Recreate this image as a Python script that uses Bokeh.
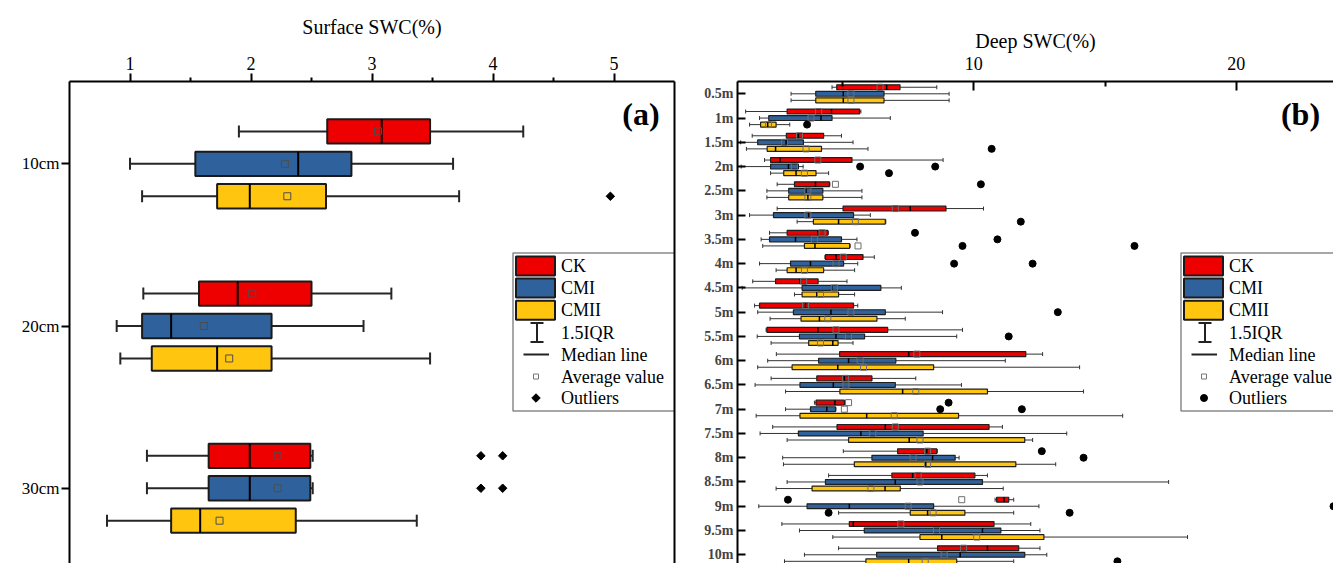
import numpy as np
from bokeh.plotting import figure
from bokeh.models import Range1d, FixedTicker, LinearAxis
from bokeh.layouts import row
from bokeh.embed import file_html
from bokeh.resources import INLINE
from bokeh.core.properties import value

FONT = "Liberation Serif"

series = ["CK", "CMI", "CMII"]
series_colors = ["#EE0000", "#2F629D", "#FFC50F"]

# ---------------- Surface SWC (%) ----------------
# columns: lower whisker, Q1, median, Q3, upper whisker, mean
surf_depths = ["10cm", "20cm", "30cm"]
surf_CK = [
    (1.90, 2.63, 3.08, 3.48, 4.25, 3.05),
    (1.11, 1.57, 1.89, 2.50, 3.16, 2.01),
    (1.14, 1.65, 1.99, 2.49, 2.51, 2.22),
]
surf_CMI = [
    (1.00, 1.54, 2.39, 2.83, 3.67, 2.28),
    (0.89, 1.10, 1.34, 2.17, 2.93, 1.61),
    (1.14, 1.65, 1.99, 2.49, 2.51, 2.22),
]
surf_CMII = [
    (1.10, 1.72, 1.99, 2.62, 3.72, 2.30),
    (0.92, 1.18, 1.72, 2.17, 3.48, 1.82),
    (0.81, 1.34, 1.58, 2.37, 3.37, 1.74),
]
surf_out_CK = [("30cm", 3.90), ("30cm", 4.08)]
surf_out_CMI = [("30cm", 3.90), ("30cm", 4.08)]
surf_out_CMII = [("10cm", 4.97)]

# ---------------- Deep SWC (%) ----------------
deep_depths = ["0.5m", "1m", "1.5m", "2m", "2.5m", "3m", "3.5m", "4m", "4.5m", "5m",
               "5.5m", "6m", "6.5m", "7m", "7.5m", "8m", "8.5m", "9m", "9.5m", "10m"]
deep_CK = [
    (4.60, 4.78, 6.68, 7.19, 8.59, 6.43),
    (1.31, 2.89, 4.58, 5.65, 5.70, 4.09),
    (1.56, 2.86, 3.32, 4.28, 4.96, 3.36),
    (2.03, 2.26, 2.62, 5.36, 8.83, 4.06),
    (2.51, 3.17, 3.97, 4.50, 4.52, 4.73),
    (2.51, 5.02, 7.58, 8.94, 10.37, 7.01),
    (2.22, 2.89, 4.06, 4.44, 4.46, 4.22),
    (4.33, 4.35, 4.75, 5.78, 6.21, 5.03),
    (1.58, 2.45, 3.38, 4.07, 5.17, 3.52),
    (1.65, 1.84, 3.59, 5.42, 5.58, 3.59),
    (2.09, 2.12, 4.06, 6.72, 9.57, 4.75),
    (2.48, 4.89, 7.52, 11.98, 12.62, 7.83),
    (2.28, 4.02, 5.07, 6.12, 7.79, 5.11),
    (3.93, 3.99, 4.71, 5.07, 5.09, 5.23),
    (2.34, 4.79, 6.63, 10.58, 11.09, 7.01),
    (5.03, 7.10, 8.21, 8.59, 8.61, 8.24),
    (4.47, 6.88, 7.67, 10.04, 10.52, 7.88),
    (10.81, 10.87, 11.15, 11.33, 11.52, 9.54),
    (2.69, 5.26, 5.41, 10.77, 12.17, 7.22),
    (4.85, 8.62, 10.52, 11.71, 12.52, 9.61),
]
deep_CMI = [
    (3.04, 3.98, 5.03, 6.58, 9.06, 5.32),
    (1.84, 2.19, 4.18, 4.60, 6.82, 3.80),
    (1.12, 1.77, 2.85, 3.51, 5.40, 2.79),
    (1.14, 2.26, 2.94, 3.32, 3.50, 3.17),
    (2.12, 2.95, 3.61, 4.25, 5.74, 3.68),
    (1.46, 2.37, 3.71, 5.42, 6.06, 3.68),
    (1.90, 2.22, 3.21, 4.96, 5.55, 3.93),
    (1.84, 3.02, 3.78, 5.04, 5.58, 4.75),
    (1.18, 3.46, 4.59, 6.46, 7.24, 4.69),
    (1.77, 3.13, 4.56, 6.63, 8.81, 5.32),
    (1.75, 3.36, 4.75, 5.84, 9.35, 5.23),
    (2.15, 4.09, 5.23, 7.03, 11.20, 5.67),
    (1.67, 3.38, 4.65, 7.01, 9.53, 5.13),
    (2.83, 3.78, 4.40, 4.73, 4.75, 5.07),
    (1.86, 3.32, 5.70, 8.07, 13.54, 6.15),
    (2.72, 6.12, 8.43, 9.29, 9.44, 7.69),
    (2.89, 4.35, 7.01, 10.33, 17.42, 7.95),
    (1.81, 3.65, 5.26, 8.47, 12.48, 7.50),
    (3.36, 5.83, 10.33, 11.03, 12.52, 8.58),
    (3.55, 6.30, 9.48, 11.94, 12.78, 8.87),
]
deep_CMII = [
    (3.04, 3.98, 5.03, 6.58, 9.06, 5.32),
    (1.46, 1.88, 2.15, 2.47, 2.99, 2.18),
    (1.34, 2.13, 2.45, 4.20, 5.97, 3.61),
    (2.26, 2.76, 3.23, 3.99, 4.47, 3.55),
    (2.12, 2.95, 3.68, 4.25, 5.74, 3.68),
    (3.27, 3.89, 4.85, 6.63, 6.65, 5.49),
    (1.96, 3.55, 3.95, 5.27, 5.29, 5.59),
    (2.47, 2.89, 3.23, 4.28, 5.46, 3.55),
    (3.17, 3.46, 4.02, 4.85, 5.46, 4.16),
    (2.24, 3.42, 4.12, 6.31, 7.39, 4.44),
    (2.28, 3.71, 4.63, 4.83, 5.40, 4.16),
    (1.77, 3.08, 4.82, 8.47, 14.03, 5.80),
    (2.83, 4.90, 7.29, 10.52, 14.18, 7.79),
    (1.71, 3.38, 5.92, 9.42, 15.67, 6.97),
    (2.89, 5.23, 7.54, 11.94, 12.24, 7.95),
    (2.75, 5.45, 8.17, 11.60, 13.12, 8.24),
    (2.47, 3.84, 6.62, 7.20, 11.12, 6.08),
    (4.85, 7.58, 8.24, 9.66, 11.52, 8.45),
    (4.63, 7.95, 8.78, 12.67, 18.14, 10.11),
    (2.79, 5.89, 7.52, 9.35, 11.52, 8.15),
]
deep_out_CK = [("2.5m", 10.27), ("3.5m", 7.76), ("7m", 9.04), ("8m", 12.59), ("9m", 2.92)]
deep_out_CMI = [("2m", 5.67), ("2m", 8.53), ("3.5m", 10.90), ("4m", 9.25), ("4m", 12.24),
                ("5m", 13.20), ("5.5m", 11.33), ("7m", 8.72), ("7m", 11.83), ("8m", 14.18),
                ("9m", 23.70)]
deep_out_CMII = [("1m", 3.65), ("1.5m", 10.68), ("2m", 6.77), ("3m", 11.79), ("3.5m", 9.57),
                 ("3.5m", 16.12), ("9m", 4.47), ("9m", 13.65), ("10m", 15.47)]

legend_labels = ["CK", "CMI", "CMII", "1.5IQR", "Median line", "Average value", "Outliers"]

FRAME_H = 482
TOP = 81


def make_panel(depths, stats, outs, xr, yr, fw, mb_left, mb_right, cfg):
    p = figure(frame_width=fw, frame_height=FRAME_H,
               min_border_left=mb_left, min_border_right=mb_right,
               min_border_top=TOP, min_border_bottom=0,
               x_range=Range1d(*xr), y_range=Range1d(*yr),
               x_axis_location="above", output_backend="svg",
               toolbar_location=None, outline_line_color=None,
               background_fill_color="white", border_fill_color="white")
    p.xgrid.visible = False
    p.ygrid.visible = False
    idx = {d: i for i, d in enumerate(depths)}
    h = cfg["box_h"]
    for k, (name, col) in enumerate(zip(series, series_colors)):
        a = np.array(stats[name], dtype=float)
        lo, q1, med, q3, hi, mean = a.T
        y = np.arange(len(depths)) + cfg["offsets"][k]
        p.segment(x0=lo, y0=y, x1=q1, y1=y, line_color=cfg["wcol"], line_width=cfg["ww"])
        p.segment(x0=q3, y0=y, x1=hi, y1=y, line_color=cfg["wcol"], line_width=cfg["ww"])
        p.scatter(x=np.concatenate([lo, hi]), y=np.concatenate([y, y]), marker="dash",
                  angle=np.pi / 2, size=cfg["cap"], line_color=cfg["wcol"], line_width=cfg["ww"])
        p.hbar(y=y, left=q1, right=q3, height=h, fill_color=col,
               line_color=cfg["bcol"], line_width=cfg["bw"])
        p.segment(x0=med, y0=y - h / 2, x1=med, y1=y + h / 2, line_color="black",
                  line_width=cfg["mw"])
        p.scatter(x=mean, y=y, marker="square", size=cfg["ms"], fill_color=None,
                  line_color=cfg["mcol"], line_width=1)
        o = outs[name]
        if o:
            oy = [idx[d] + cfg["offsets"][k] for d, _ in o]
            ox = [v for _, v in o]
            p.scatter(x=ox, y=oy, marker=cfg["omarker"], angle=cfg["oangle"],
                      size=cfg["osize"], color="black")
    return p


def add_legend(p, fw, cfg, tag, tag_x):
    p.extra_x_ranges = {"px": Range1d(0, fw)}
    p.extra_y_ranges = {"py": Range1d(FRAME_H, 0)}
    kw = dict(x_range_name="px", y_range_name="py")
    L, T, B = 443.5, 171.5, 329.5
    rows = [184.5, 206.5, 228.7, 251.3, 273.0, 295.0, 316.5]
    p.quad(left=[L], right=[L + 175], top=[T], bottom=[B], fill_color="white",
           line_color="#8a8a8a", line_width=1.5, **kw)
    p.rect(x=[L + 22.5] * 3, y=rows[:3], width=39, height=19, fill_color=series_colors,
           line_color="#1a1a1a", line_width=2, **kw)
    p.segment(x0=[L + 24, L + 17.5, L + 17.5], y0=[241.5, 241.5, 260.5],
              x1=[L + 24, L + 30.5, L + 30.5], y1=[260.5, 241.5, 260.5],
              line_color="#222222", line_width=2, **kw)
    p.segment(x0=[L + 10.5], y0=[rows[4]], x1=[L + 36], y1=[rows[4]],
              line_color="#222222", line_width=2, **kw)
    p.scatter(x=[L + 23], y=[rows[5]], marker="square", size=5, fill_color=None,
              line_color="#777777", **kw)
    p.scatter(x=[L + 23], y=[rows[6]], marker=cfg["omarker"], angle=cfg["oangle"],
              size=cfg["osize"], color="black", **kw)
    p.text(x=[L + 48] * 7, y=rows, text=legend_labels, text_font=value(FONT),
           text_font_size="18px", text_baseline="middle", text_color="black", **kw)
    p.text(x=[tag_x], y=[32.5], text=[tag], text_font=value(FONT), text_font_size="32px",
           text_font_style="bold", text_align="center", text_baseline="middle",
           text_color="black", **kw)


def style_axes(p, xlabel, xticks, xminor, ylabels, cfg):
    ax = p.xaxis[0]
    ax.ticker = FixedTicker(ticks=xticks, minor_ticks=xminor)
    ax.axis_label = xlabel
    ax.axis_label_text_font = FONT
    ax.axis_label_text_font_size = "20px"
    ax.axis_label_text_font_style = "normal"
    ax.axis_label_text_color = "black"
    ax.axis_label_standoff = cfg["xlab_standoff"]
    ax.major_label_text_font = FONT
    ax.major_label_text_font_size = "18px"
    ax.major_label_text_color = "black"
    ax.major_label_standoff = cfg["xtick_standoff"]
    ax.major_tick_out = cfg["xt_out"]
    ax.major_tick_in = cfg["xt_in"]
    ax.minor_tick_out = cfg["xm_out"]
    ax.minor_tick_in = cfg["xm_in"]
    ax.axis_line_width = 2
    ax.major_tick_line_width = 2
    ax.minor_tick_line_width = 2
    ay = p.yaxis[0]
    ay.ticker = FixedTicker(ticks=list(range(len(ylabels))))
    ay.major_label_overrides = {i: s for i, s in enumerate(ylabels)}
    ay.major_label_text_font = FONT
    ay.major_label_text_font_size = cfg["ylab_size"]
    ay.major_label_text_font_style = cfg["ylab_style"]
    ay.major_label_text_color = cfg["ylab_color"]
    ay.major_label_standoff = cfg["ytick_standoff"]
    ay.major_tick_out = cfg["yt_out"]
    ay.major_tick_in = cfg["yt_in"]
    ay.minor_tick_line_color = None
    ay.axis_line_width = 2
    ay.major_tick_line_width = 2


# ---------------- panel (a) ----------------
cfg_a = dict(offsets=[-0.2, 0.0, 0.2], box_h=0.15, wcol="#262626", ww=2, cap=12,
             bcol="#1a1a1a", bw=2, mw=2, ms=7, mcol="#4d4d4d",
             omarker="square", oangle=np.pi / 4, osize=6,
             xlab_standoff=16, xtick_standoff=4, xt_out=8, xt_in=0, xm_out=4, xm_in=0,
             ylab_size="17px", ylab_style="normal", ylab_color="black",
             ytick_standoff=2, yt_out=8, yt_in=0)
pa = make_panel(surf_depths,
                {"CK": surf_CK, "CMI": surf_CMI, "CMII": surf_CMII},
                {"CK": surf_out_CK, "CMI": surf_out_CMI, "CMII": surf_out_CMII},
                (0.5, 5.5), (2.464, -0.5075), 605, 69, 6, cfg_a)
style_axes(pa, "Surface SWC(%)", [1, 2, 3, 4, 5], [1.5, 2.5, 3.5, 4.5], surf_depths, cfg_a)
right_ax = LinearAxis(ticker=FixedTicker(ticks=[]), major_tick_out=0, major_tick_in=0,
                      minor_tick_out=0, minor_tick_in=0, major_label_standoff=0,
                      axis_line_width=2, major_label_text_font_size="0px")
pa.add_layout(right_ax, "right")
add_legend(pa, 605, cfg_a, "(a)", 571.5)

# ---------------- panel (b) ----------------
cfg_b = dict(offsets=[-0.27, 0.0, 0.27], box_h=0.2, wcol="#333333", ww=1, cap=4,
             bcol="#1f1f1f", bw=1.2, mw=1.5, ms=6, mcol="#6e6e6e",
             omarker="circle", oangle=0.0, osize=7,
             xlab_standoff=2, xtick_standoff=12, xt_out=0, xt_in=9, xm_out=0, xm_in=5,
             ylab_size="14px", ylab_style="bold", ylab_color="#444444",
             ytick_standoff=4, yt_out=0, yt_in=8)
pb = make_panel(deep_depths,
                {"CK": deep_CK, "CMI": deep_CMI, "CMII": deep_CMII},
                {"CK": deep_out_CK, "CMI": deep_out_CMI, "CMII": deep_out_CMII},
                (1.0, 23.7), (19.36, -0.507), 596, 57, 0, cfg_b)
style_axes(pb, "Deep SWC(%)", [10, 20], [5, 15], deep_depths, cfg_b)
add_legend(pb, 596, cfg_b, "(b)", 563)

layout = row(pa, pb)
open("out.html", "w").write(file_html(layout, INLINE))
